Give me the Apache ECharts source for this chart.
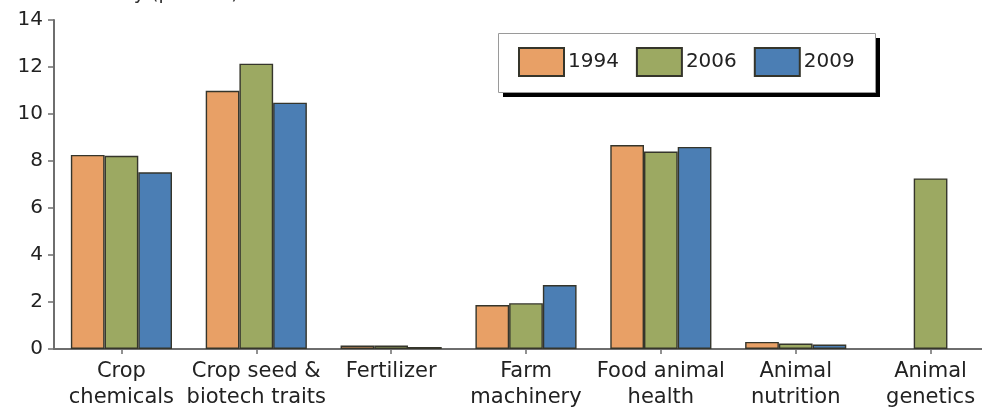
<!DOCTYPE html>
<html>
<head>
<meta charset="utf-8">
<script src="https://cdn.jsdelivr.net/npm/echarts@6/dist/echarts.min.js"></script>
<style>
html,body{margin:0;padding:0;background:#fff;overflow:hidden;}
#chart{width:1000px;height:414px;}
</style>
</head>
<body>
<div id="chart"></div>
<script>
const categories = ["Crop\nchemicals", "Crop seed &\nbiotech traits", "Fertilizer", "Farm\nmachinery", "Food animal\nhealth", "Animal\nnutrition", "Animal\ngenetics"];
const seriesNames = ["1994", "2006", "2009"];
const values1994 = [8.26, 10.99, 0.15, 1.87, 8.68, 0.30, null];
const values2006 = [8.22, 12.14, 0.15, 1.95, 8.40, 0.23, 7.26];
const values2009 = [7.52, 10.48, 0.09, 2.72, 8.60, 0.19, null];
const yTicks = [0, 2, 4, 6, 8, 10, 12, 14];
const axisTitle = "R&D intensity (percent)";

const colors = ["#E8A066", "#9CA962", "#4B7EB4"];
const font = "DejaVu Sans";

const chart = echarts.init(document.getElementById('chart'), null, {renderer: 'canvas'});
const dataSets = [values1994, values2006, values2009];
chart.setOption({
  animation: false,
  backgroundColor: '#fff',
  title: {
    text: axisTitle,
    left: 14,
    top: -15,
    padding: 0,
    textStyle: {fontFamily: font, fontSize: 19, fontWeight: 'normal', color: '#333'}
  },
  graphic: [
    {type: 'rect', left: 503, top: 38, shape: {width: 377, height: 59}, style: {fill: '#000'}, z: 1, silent: true},
    {type: 'rect', left: 498, top: 33, shape: {width: 377, height: 59}, style: {fill: '#fff', stroke: '#9a9a9a', lineWidth: 1}, z: 2, silent: true}
  ],
  legend: {
    data: seriesNames,
    left: 498,
    top: 33,
    orient: 'horizontal',
    itemWidth: 45,
    itemHeight: 28,
    itemGap: 17,
    padding: [14, 15, 17, 20],
    z: 10,
    icon: 'rect',
    textStyle: {fontFamily: font, fontSize: 20, color: '#222', padding: [0, 0, 0, -1]}
  },
  grid: {left: 54, right: 2, top: 20, bottom: 65, containLabel: false},
  xAxis: {
    type: 'category',
    data: categories,
    axisLine: {lineStyle: {color: '#6e6e6e', width: 2}},
    axisTick: {show: true, alignWithLabel: true, length: 5, lineStyle: {color: '#6e6e6e', width: 1.5}},
    axisLabel: {interval: 0, margin: 10, fontFamily: font, fontSize: 21, color: '#222', lineHeight: 26}
  },
  yAxis: {
    type: 'value',
    min: yTicks[0],
    max: yTicks[yTicks.length - 1],
    interval: 2,
    splitLine: {show: false},
    axisLine: {show: true, lineStyle: {color: '#6e6e6e', width: 2}},
    axisTick: {show: true, length: 6, lineStyle: {color: '#6e6e6e', width: 1.5}},
    axisLabel: {margin: 11, fontFamily: font, fontSize: 20, color: '#222'}
  },
  series: seriesNames.map((name, i) => ({
    name: name,
    type: 'bar',
    data: dataSets[i],
    barWidth: '25%',
    barGap: '0%',
    itemStyle: {color: colors[i], borderColor: '#35352b', borderWidth: 1.4}
  }))
});
</script>
</body>
</html>
